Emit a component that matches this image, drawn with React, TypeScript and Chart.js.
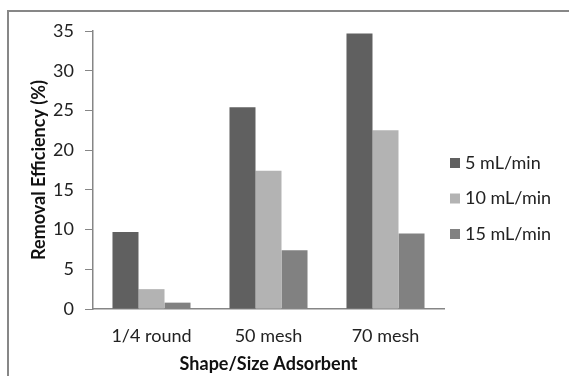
import React, { useEffect, useRef } from "react";
import { Chart, registerables } from "chart.js";

Chart.register(...registerables);

const categories = ["1/4 round", "50 mesh", "70 mesh"];
const seriesLabels = ["5 mL/min", "10 mL/min", "15 mL/min"];
const flow5 = [9.7, 25.4, 34.7];
const flow10 = [2.5, 17.4, 22.5];
const flow15 = [0.8, 7.4, 9.5];
const yTicks = [0, 5, 10, 15, 20, 25, 30, 35];
const colors = ["#606060", "#b3b3b3", "#818181"];

const FONT = "Lato, 'Open Sans', sans-serif";

const frameAndLegend = {
  id: "frameAndLegend",
  afterDraw(chart: any) {
    const ctx = chart.ctx;
    ctx.save();
    ctx.strokeStyle = "#878787";
    ctx.lineWidth = 2;
    ctx.strokeRect(8, 11, 800, 600);
    // legend
    ctx.font = `18px ${FONT}`;
    ctx.textBaseline = "middle";
    ctx.textAlign = "left";
    chart.data.datasets.forEach((ds: any, i: number) => {
      const y = 163 + i * 35.5;
      ctx.fillStyle = ds.backgroundColor;
      ctx.fillRect(450, y - 5, 10, 10);
      ctx.fillStyle = "#222";
      ctx.fillText(ds.label, 465, y);
    });
    ctx.restore();
  },
};

export default function App() {
  const ref = useRef<HTMLCanvasElement>(null);
  useEffect(() => {
    if (!ref.current) return;
    const data = [flow5, flow10, flow15];
    const chart = new Chart(ref.current, {
      type: "bar",
      data: {
        labels: categories,
        datasets: seriesLabels.map((label, i) => ({
          label,
          data: data[i],
          backgroundColor: colors[i],
          borderWidth: 0,
          categoryPercentage: 0.667,
          barPercentage: 1,
        })),
      },
      options: {
        animation: false,
        responsive: false,
        maintainAspectRatio: false,
        layout: { padding: { left: 0, right: 125, top: 31, bottom: 0 } },
        plugins: {
          legend: { display: false },
          tooltip: { enabled: false },
        },
        scales: {
          x: {
            grid: { display: false, drawTicks: false },
            border: { display: true, color: "#868686", width: 1.5 },
            ticks: { color: "#222", font: { family: FONT, size: 18 }, padding: 16 },
            title: {
              display: true,
              text: "Shape/Size Adsorbent",
              color: "#111",
              font: { family: FONT, size: 18, weight: "bold" },
              padding: { top: 0, bottom: 1 },
            },
            afterFit: (s: any) => {
              s.height = 67;
            },
          },
          y: {
            min: 0,
            max: 35,
            afterBuildTicks: (s: any) => {
              s.ticks = yTicks.map((v) => ({ value: v }));
            },
            grid: {
              drawOnChartArea: false,
              drawTicks: true,
              tickLength: 8,
              color: "#868686",
            },
            border: { display: true, color: "#868686", width: 1.5 },
            ticks: { color: "#222", font: { family: FONT, size: 18 }, padding: 11 },
            title: {
              display: true,
              text: "Removal Efficiency (%)",
              color: "#111",
              font: { family: FONT, size: 18, weight: "bold" },
              padding: { top: 28, bottom: 0 },
            },
            afterFit: (s: any) => {
              s.width = 93;
            },
          },
        },
      },
      plugins: [frameAndLegend],
    });
    return () => chart.destroy();
  }, []);
  return (
    <div style={{ position: "fixed", left: 0, top: 0, width: 569, height: 376, background: "#fff" }}>
      <canvas ref={ref} width={569} height={376} style={{ display: "block" }} />
    </div>
  );
}
